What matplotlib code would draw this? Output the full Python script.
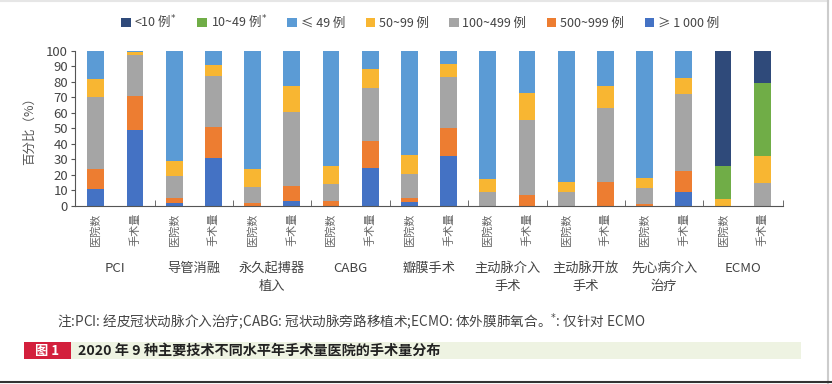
import matplotlib
matplotlib.use('Agg')
import matplotlib.pyplot as plt
from matplotlib.patches import Rectangle
from matplotlib.lines import Line2D
import numpy as np

plt.rcParams['font.family'] = ['Noto Sans CJK SC', 'DejaVu Sans']

# 数据 (从图中读取, 百分比)
bar_labels = ['医院数', '手术量'] * 9
groups = ['PCI', '导管消融', '永久起搏器\n植入', 'CABG', '瓣膜手术',
          '主动脉介入\n手术', '主动脉开放\n手术', '先心病介入\n治疗', 'ECMO']

ge1000 = [10.5, 49, 2, 30.5, 0, 3, 0, 24.5, 2.6, 32.3, 0, 0, 0, 0, 0, 9, 0, 0]
s500 = [13.5, 22, 3, 20.5, 1.5, 10, 3, 17.5, 2.1, 18, 0, 6.7, 0, 15.5, 1, 13.6, 0, 0]
s100 = [46, 26, 14, 33, 10.5, 47.6, 11, 34, 15.7, 32.7, 8.8, 48.8, 8.8, 47.3, 10.2, 49.3, 0, 14.5]
s50 = [11.5, 2.4, 9.6, 7, 12, 16.8, 11.6, 12, 12.3, 8.4, 8.4, 17.5, 6.7, 14.4, 6.8, 10.3, 4.1, 17.8]
s10_49 = [0] * 16 + [21.5, 47.1]
lt10 = [0] * 16 + [74.4, 20.6]
le49 = [100 - a - b - c - d - e - f for a, b, c, d, e, f in zip(ge1000, s500, s100, s50, s10_49, lt10)]

series = [
    ('≥ 1 000 例', ge1000, '#4472C4'),
    ('500~999 例', s500, '#ED7D31'),
    ('100~499 例', s100, '#A5A5A5'),
    ('50~99 例', s50, '#F8B632'),
    ('≤ 49 例', le49, '#5B9BD5'),
    ('10~49 例$^{*}$', s10_49, '#70AD47'),
    ('<10 例$^{*}$', lt10, '#2F4A7A'),
]

fig = plt.figure(figsize=(8.32, 3.84), dpi=100)
ax = fig.add_axes([0.0901, 0.4643, 0.851, 0.4036])

x = np.arange(len(bar_labels))
bottom = np.zeros(len(x))
handles = {}
for name, vals, col in series:
    b = ax.bar(x, vals, 0.43, bottom=bottom, color=col, label=name)
    handles[name] = b
    bottom += np.array(vals)

ax.set_xlim(-0.53, 17.53)
ax.set_ylim(0, 100)
ax.set_yticks(range(0, 101, 10))
ax.tick_params(axis='y', labelsize=9.5, labelcolor='#444444', length=3, color='#555555', pad=2)
ax.set_xticks(x)
ax.set_xticklabels(bar_labels, rotation=90, fontsize=8, color='#666666')
ax.tick_params(axis='x', which='major', length=0, pad=5)
ax.set_xticks(np.arange(1.5, 17, 2).tolist() + [17.53], minor=True)
ax.tick_params(axis='x', which='minor', direction='in', length=4, color='#555555')
for s in ['top', 'right']:
    ax.spines[s].set_visible(False)
for s in ['left', 'bottom']:
    ax.spines[s].set_color('#555555')
    ax.spines[s].set_linewidth(0.8)
ax.set_ylabel('百分比（%）', fontsize=9, color='#555555', labelpad=7)

# 分组名称
for i, g in enumerate(groups):
    ax.text(2 * i + 0.5, -0.36, g, transform=ax.get_xaxis_transform(),
            ha='center', va='top', fontsize=9.5, color='#444444', linespacing=1.55)

# 图例
order = ['<10 例$^{*}$', '10~49 例$^{*}$', '≤ 49 例', '50~99 例', '100~499 例', '500~999 例', '≥ 1 000 例']
fig.legend([handles[k] for k in order], order, loc='center', bbox_to_anchor=(0.505, 0.943),
           ncol=7, frameon=False, fontsize=9, handlelength=0.75, handleheight=0.75,
           handletextpad=0.3, columnspacing=1.65, labelcolor='#444444')

# 注释
fig.text(0.0685, 1 - 322 / 384, '注:PCI: 经皮冠状动脉介入治疗;CABG: 冠状动脉旁路移植术;ECMO: 体外膜肺氧合。$^{*}$: 仅针对 ECMO',
         fontsize=9.8, color='#444444', va='center')

# 图题
fig.patches.append(Rectangle((71 / 832, 25 / 384), 730 / 832, 17 / 384, transform=fig.transFigure,
                             facecolor='#EEF3E2', edgecolor='none'))
fig.patches.append(Rectangle((24 / 832, 25 / 384), 47 / 832, 17 / 384, transform=fig.transFigure,
                             facecolor='#D31F3C', edgecolor='none'))
fig.text(47.5 / 832, 33.5 / 384, '图 1', color='white', fontsize=9.5, fontweight='bold', ha='center', va='center')
fig.text(78 / 832, 33.5 / 384, '2020 年 9 种主要技术不同水平年手术量医院的手术量分布',
         color='#222222', fontsize=10.2, fontweight='bold', va='center')

# 边框
fig.lines.append(Line2D([0, 828 / 832], [1 - 1 / 384, 1 - 1 / 384], transform=fig.transFigure, color='#e6e6e6', lw=1.5))
fig.lines.append(Line2D([828 / 832, 828 / 832], [0, 1], transform=fig.transFigure, color='#cccccc', lw=1.5))
fig.lines.append(Line2D([0, 1], [2 / 384, 2 / 384], transform=fig.transFigure, color='#333333', lw=1.5))

fig.savefig('out.png', dpi=100)
